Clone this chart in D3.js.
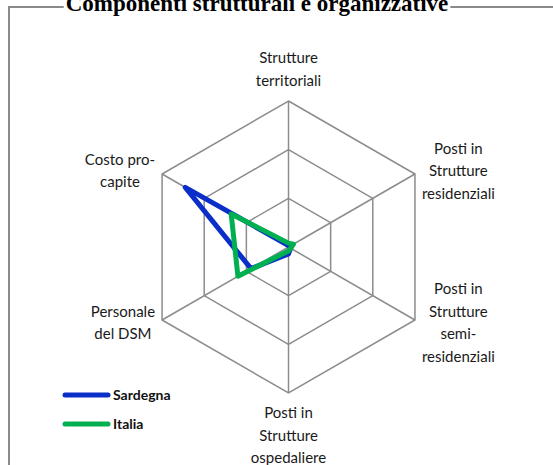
<!DOCTYPE html>
<html>
<head>
<meta charset="utf-8">
<script src="https://cdn.jsdelivr.net/npm/d3@7"></script>
<style>
  body { margin: 0; background: #fff; }
  svg { display: block; }
  .lbl { font-family: Lato, "Open Sans", sans-serif; font-size: 15px; fill: #1a1a1a; }
  .leg { font-family: Lato, "Open Sans", sans-serif; font-size: 14px; font-weight: bold; fill: #111; }
</style>
</head>
<body>
<svg width="553" height="465"></svg>
<script>
const axesLabels = [
  ["Strutture", "territoriali"],
  ["Posti in", "Strutture", "residenziali"],
  ["Posti in", "Strutture", "semi-", "residenziali"],
  ["Posti in", "Strutture", "ospedaliere"],
  ["Personale", "del DSM"],
  ["Costo pro-", "capite"]
];
const seriesNames = ["Sardegna", "Italia"];
const sardegna = [0.03, 0.06, 0.05, 0.14, 0.89, 2.45];
const italia = [0.08, 0.12, 0.05, 0.08, 1.2, 1.36];
const levels = [1, 2, 3];
const colors = ["#0a2fc8", "#00b050"];

const svg = d3.select('svg');
const cx = 288.5, cy = 247, R = 146;
const rScale = d3.scaleLinear().domain([0, 3]).range([0, R]);
const angle = i => i * Math.PI / 3;
const pt = (i, v) => [cx + rScale(v) * Math.sin(angle(i)), cy - rScale(v) * Math.cos(angle(i))];

// frame
svg.append('path')
  .attr('d', 'M9,465 V7 H553')
  .attr('fill', 'none')
  .attr('stroke', '#8a8a8a')
  .attr('stroke-width', 2);

// title (clipped at the top like in the original)
const title = svg.append('text')
  .attr('x', 257)
  .attr('y', 11)
  .attr('text-anchor', 'middle')
  .style('font-family', '"Liberation Serif", serif')
  .style('font-size', '23px')
  .style('font-weight', 'bold')
  .text('Componenti strutturali e organizzative');
const tb = title.node().getBBox();
svg.insert('rect', 'text')
  .attr('x', tb.x - 2).attr('y', 0)
  .attr('width', tb.width + 4).attr('height', 12)
  .attr('fill', '#fff');

const grid = svg.append('g').attr('class', 'grid');
levels.forEach(l => {
  grid.append('path')
    .attr('d', d3.line()(d3.range(6).map(i => pt(i, l))) + 'Z')
    .attr('fill', 'none')
    .attr('stroke', '#8c8c8c')
    .attr('stroke-width', 1.5);
});
d3.range(6).forEach(i => {
  grid.append('line')
    .attr('x1', cx).attr('y1', cy)
    .attr('x2', pt(i, 3)[0]).attr('y2', pt(i, 3)[1])
    .attr('stroke', '#8c8c8c')
    .attr('stroke-width', 1.5);
});

// axis labels
const lineH = 22.5;
axesLabels.forEach((lines, i) => {
  const [vx, vy] = pt(i, 3);
  const t = svg.append('text').attr('class', 'lbl').attr('text-anchor', 'middle');
  lines.forEach((s, k) => t.append('tspan').attr('x', 0).attr('dy', k === 0 ? 0 : lineH).text(s));
  const w = d3.max(t.selectAll('tspan').nodes(), n => n.getComputedTextLength());
  const h = lines.length * lineH;
  const s = Math.sin(angle(i));
  let bx, by;
  if (Math.abs(s) < 0.01) {
    bx = vx;
    by = vy - Math.cos(angle(i)) * (h / 2 + 9);
  } else {
    bx = vx + Math.sign(s) * (w / 2 + 7);
    by = vy + (Math.cos(angle(i)) > 0 ? -3 : 3);
  }
  t.attr('transform', `translate(${bx},${by - h / 2 + lineH / 2 + 5})`);
});

// series
const line = d3.line();
[sardegna, italia].forEach((vals, s) => {
  svg.append('path')
    .attr('d', line(vals.map((v, i) => pt(i, v))) + 'Z')
    .attr('fill', 'none')
    .attr('stroke', colors[s])
    .attr('stroke-width', 5)
    .attr('stroke-linejoin', 'round');
});

// legend
const leg = svg.append('g');
seriesNames.forEach((n, s) => {
  const y = 395 + s * 29;
  leg.append('line')
    .attr('x1', 65).attr('x2', 108).attr('y1', y).attr('y2', y)
    .attr('stroke', colors[s]).attr('stroke-width', 5).attr('stroke-linecap', 'round');
  leg.append('text').attr('class', 'leg')
    .attr('x', 113).attr('y', y + 5).text(n);
});
</script>
</body>
</html>
